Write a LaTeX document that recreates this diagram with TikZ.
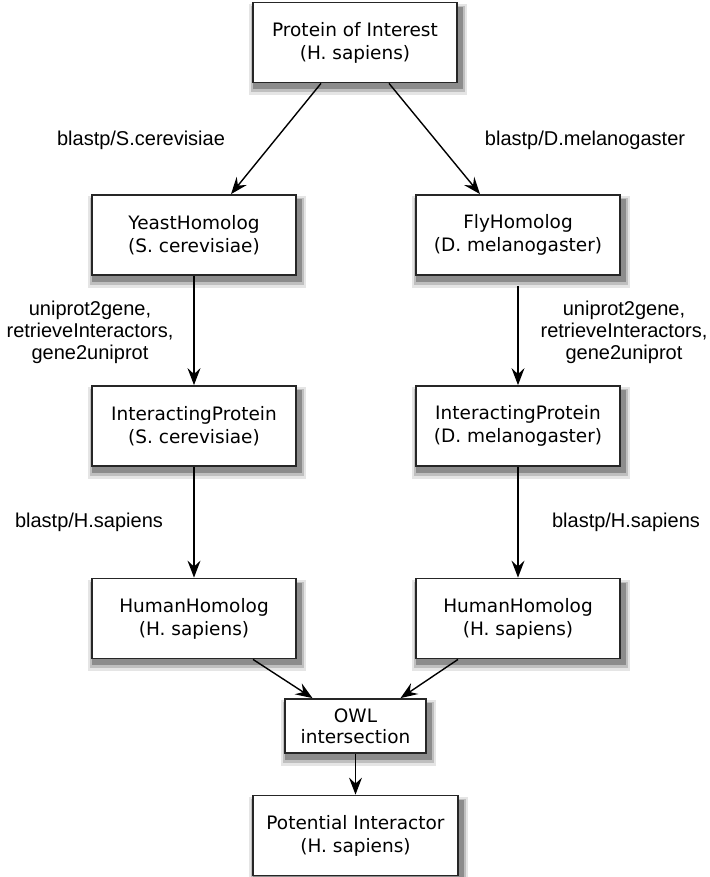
\documentclass[tikz,border=0pt]{standalone}
\usepackage{fontspec}
\setmainfont{Liberation Sans}
\newfontfamily\boxfont{DejaVu Sans}
\usepackage{tikz}
\usetikzlibrary{arrows.meta,positioning,backgrounds}

\begin{document}
\begin{tikzpicture}[
    x=1pt,y=-1pt,
    font=\fontsize{20}{22}\selectfont,
    box/.style={draw=black!85,line width=1.8pt,fill=white,minimum width=204pt,
                minimum height=80pt,align=center,inner sep=2pt,
                font=\boxfont\fontsize{18.5}{23}\selectfont},
    owlbox/.style={box,minimum width=141pt,minimum height=54pt,
                   font=\boxfont\fontsize{18.5}{21}\selectfont},
    lbl/.style={align=center},
    ar/.style={-{Stealth[length=17pt,width=13pt,inset=6pt]},line width=1.4pt}
  ]
    \useasboundingbox (0,0) rectangle (709,877);

    \node[box] (poi)   at (355,42.5)  {Protein of Interest\\(H. sapiens)};
    \node[box] (yeast) at (194,235)   {YeastHomolog\\(S. cerevisiae)};
    \node[box] (fly)   at (518,235)   {FlyHomolog\\(D. melanogaster)};
    \node[box] (intY)  at (194,426)   {InteractingProtein\\(S. cerevisiae)};
    \node[box] (intF)  at (518,426)   {InteractingProtein\\(D. melanogaster)};
    \node[box] (humY)  at (194,618.5) {HumanHomolog\\(H. sapiens)};
    \node[box] (humF)  at (518,618.5) {HumanHomolog\\(H. sapiens)};
    \node[owlbox] (owl) at (355.5,726) {OWL\\intersection};
    \node[box,minimum width=205pt] (pot) at (355.5,835.5) {Potential Interactor\\(H. sapiens)};

    \node[lbl] (lblSc) at (141,140) {blastp/S.cerevisiae};
    \node[lbl] (lblDm) at (585,140) {blastp/D.melanogaster};
    \node[lbl] (lblUY) at (90,332)  {uniprot2gene,\\retrieveInteractors,\\gene2uniprot};
    \node[lbl] (lblUF) at (624,332) {uniprot2gene,\\retrieveInteractors,\\gene2uniprot};
    \node[lbl] (lblHY) at (89,522)  {blastp/H.sapiens};
    \node[lbl] (lblHF) at (626,522) {blastp/H.sapiens};

    \draw[ar] ([xshift=-34pt]poi.south) -- ([xshift=37pt]yeast.north);
    \draw[ar] ([xshift=34pt]poi.south)  -- ([xshift=-38pt]fly.north);
    \draw[ar] (yeast.south) -- (intY.north);
    \draw[ar,shorten <=10pt] (fly.south) -- (intF.north);
    \draw[ar] (intY.south) -- (humY.north);
    \draw[ar] (intF.south) -- (humF.north);
    \draw[ar] ([xshift=59pt]humY.south)  -- ([xshift=-43pt]owl.north);
    \draw[ar] ([xshift=-60pt]humF.south) -- ([xshift=45pt]owl.north);
    \draw[ar] (owl.south) -- (pot.north);

    % soft shadows behind the boxes
    \begin{scope}[on background layer]
      \fill[white] (0,0) rectangle (709,877);
      \foreach \n in {poi,yeast,fly,intY,intF,humY,humF,owl,pot}{
        \fill[black!10] ([shift={(-3,12)}]\n.south west) rectangle ([shift={(9,2)}]\n.north east);
        \fill[black!25] ([shift={(-1,9)}]\n.south west) rectangle ([shift={(7,4)}]\n.north east);
        \fill[black!45] ([shift={(1,6)}]\n.south west) rectangle ([shift={(5,5)}]\n.north east);
      }
    \end{scope}
  \end{tikzpicture}
\end{document}
